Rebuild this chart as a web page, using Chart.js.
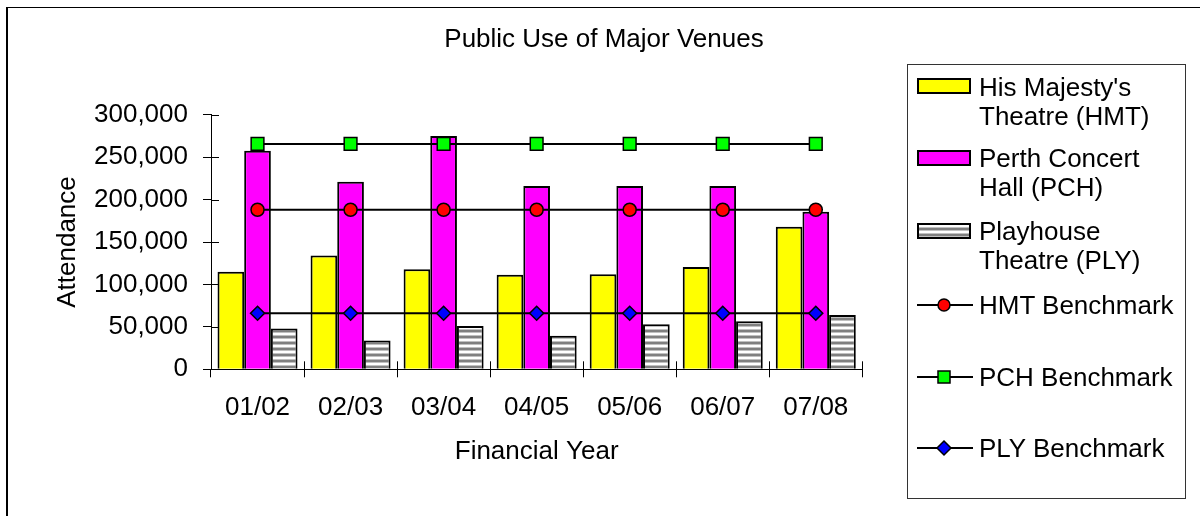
<!DOCTYPE html>
<html>
<head>
<meta charset="utf-8">
<script src="https://cdn.jsdelivr.net/npm/chart.js@4/dist/chart.umd.min.js"></script>
<style>
  html, body { margin:0; padding:0; width:1200px; height:516px; overflow:hidden; background:#fff; }
  #frame { position:absolute; left:6px; top:7px; width:1300px; height:600px; border-left:2px solid #000; border-top:1px solid #000; }
  #c { position:absolute; left:0; top:0; }
  #legend { position:absolute; left:907px; top:64px; width:279px; height:435px; border:1px solid #333; box-sizing:border-box; }
  .lt { position:absolute; left:979px; font-family:'Liberation Sans', Arial, sans-serif; font-size:26px; line-height:29px; color:#000; white-space:nowrap; }
  .sw { position:absolute; left:917px; width:54px; height:16px; border:2px solid #000; box-sizing:border-box; }
  .ls { position:absolute; left:916px; width:58px; height:20px; }
</style>
</head>
<body>
<div id="frame"></div>
<canvas id="c" width="1208" height="516"></canvas>
<div id="legend"></div>
<div class="sw" style="top:78px;background:#FFFF00"></div>
<div class="lt" style="top:72.5px">His Majesty's<br>Theatre (HMT)</div>
<div class="sw" style="top:150px;background:#FF00FF"></div>
<div class="lt" style="top:143.8px">Perth Concert<br>Hall (PCH)</div>
<div class="sw" style="top:223px;background:repeating-linear-gradient(to bottom,#fff 0px,#fff 2px,#c0c0c0 2px,#c0c0c0 3px,#808080 3px,#808080 5px,#c0c0c0 5px,#c0c0c0 6px)"></div>
<div class="lt" style="top:216.5px">Playhouse<br>Theatre (PLY)</div>
<svg class="ls" style="top:295px" viewBox="0 0 58 20"><line x1="1" y1="10" x2="57" y2="10" stroke="#000" stroke-width="2"/><circle cx="28" cy="10" r="6" fill="#FF0000" stroke="#000" stroke-width="1.5"/></svg>
<div class="lt" style="top:290.5px">HMT Benchmark</div>
<svg class="ls" style="top:366.7px" viewBox="0 0 58 20"><line x1="1" y1="10" x2="57" y2="10" stroke="#000" stroke-width="2"/><rect x="22" y="4" width="12" height="12" fill="#00FF00" stroke="#000" stroke-width="1.5"/></svg>
<div class="lt" style="top:362.5px">PCH Benchmark</div>
<svg class="ls" style="top:438.3px" viewBox="0 0 58 20"><line x1="1" y1="10" x2="57" y2="10" stroke="#000" stroke-width="2"/><polygon points="28,3 35,10 28,17 21,10" fill="#0000FF" stroke="#000" stroke-width="1.5"/></svg>
<div class="lt" style="top:434px">PLY Benchmark</div>
<script>
// ---- data ----
const categories = ['01/02', '02/03', '03/04', '04/05', '05/06', '06/07', '07/08'];
const hmtValues = [115000, 134000, 118000, 111500, 112000, 120500, 168000];
const pchValues = [257500, 221000, 275000, 216000, 216000, 216000, 185500];
const plyValues = [48000, 34000, 51000, 39500, 53000, 56500, 64000];
const hmtBenchmark = [188000, 188000, 188000, 188000, 188000, 188000, 188000];
const pchBenchmark = [265500, 265500, 265500, 265500, 265500, 265500, 265500];
const plyBenchmark = [66000, 66000, 66000, 66000, 66000, 66000, 66000];
const yTickValues = [0, 50000, 100000, 150000, 200000, 250000, 300000];

const FONT = "'Liberation Sans', Arial, sans-serif";
Chart.defaults.font.family = FONT;
Chart.defaults.font.size = 26;
Chart.defaults.color = '#000';

// striped pattern for Playhouse bars
const pc = document.createElement('canvas');
pc.width = 8; pc.height = 6;
const pctx = pc.getContext('2d');
const rows = ['#808080', '#808080', '#c0c0c0', '#ffffff', '#ffffff', '#c0c0c0'];
rows.forEach((col, i) => { pctx.fillStyle = col; pctx.fillRect(0, i, 8, 1); });
const ctx = document.getElementById('c').getContext('2d');
const stripes = ctx.createPattern(pc, 'repeat');

const crossTicks = {
  id: 'crossTicks',
  beforeDatasetsDraw(chart) {
    const { ctx, scales: { x, y } } = chart;
    ctx.save();
    ctx.strokeStyle = '#000';
    ctx.lineWidth = 1;
    y.ticks.forEach((t, i) => {
      const py = Math.round(y.getPixelForTick(i)) + 0.5;
      ctx.beginPath(); ctx.moveTo(y.right, py); ctx.lineTo(y.right + 8, py); ctx.stroke();
    });
    for (let i = 0; i <= categories.length; i++) {
      const px = Math.round(x.getPixelForValue(i - 0.5)) + 0.5;
      ctx.beginPath(); ctx.moveTo(px, x.top - 8); ctx.lineTo(px, x.top); ctx.stroke();
    }
    ctx.restore();
  }
};

const barCommon = { borderColor: '#000', borderWidth: 2, categoryPercentage: 0.86, barPercentage: 1.0, order: 2 };
const lineCommon = { type: 'line', borderColor: '#000', borderWidth: 2, fill: false, tension: 0,
  pointBorderColor: '#000', pointBorderWidth: 1.5, order: 1 };

new Chart(ctx, {
  type: 'bar',
  data: {
    labels: categories,
    datasets: [
      { ...barCommon, label: "His Majesty's Theatre (HMT)", data: hmtValues, backgroundColor: '#FFFF00' },
      { ...barCommon, label: 'Perth Concert Hall (PCH)', data: pchValues, backgroundColor: '#FF00FF' },
      { ...barCommon, label: 'Playhouse Theatre (PLY)', data: plyValues, backgroundColor: stripes },
      { ...lineCommon, label: 'HMT Benchmark', data: hmtBenchmark, pointStyle: 'circle', pointRadius: 6.5, pointBackgroundColor: '#FF0000' },
      { ...lineCommon, label: 'PCH Benchmark', data: pchBenchmark, pointStyle: 'rect', pointRadius: 9, pointBackgroundColor: '#00FF00' },
      { ...lineCommon, label: 'PLY Benchmark', data: plyBenchmark, pointStyle: 'rectRot', pointRadius: 7, pointBackgroundColor: '#0000FF' }
    ]
  },
  options: {
    responsive: false,
    animation: false,
    devicePixelRatio: 1,
    layout: { padding: 0 },
    plugins: {
      legend: { display: false },
      tooltip: { enabled: false },
      title: { display: true, text: 'Public Use of Major Venues', font: { size: 26, weight: 'normal' }, color: '#000',
        padding: { top: 24, bottom: 59.5 } }
    },
    scales: {
      x: {
        grid: { drawOnChartArea: false, tickLength: 8, color: '#000', offset: true },
        border: { color: '#000', width: 1 },
        ticks: { padding: 15, maxRotation: 0, autoSkip: false, color: '#000' },
        title: { display: true, text: 'Financial Year', color: '#000', font: { size: 26 }, padding: { top: 0, bottom: 49 } },
        afterFit(s) { s.height = 146.7; }
      },
      y: {
        min: 0, max: 300000,
        afterBuildTicks(s) { s.ticks = yTickValues.map(v => ({ value: v })); },
        grid: { drawOnChartArea: false, tickLength: 8, color: '#000' },
        border: { color: '#000', width: 1 },
        ticks: { padding: 15, color: '#000', callback: v => Number(v).toLocaleString('en-US') },
        title: { display: true, text: 'Attendance', color: '#000', font: { size: 26 }, padding: { top: 52.4, bottom: 0 } },
        afterFit(s) { s.width = 211; }
      },
      yRight: {
        type: 'linear', position: 'right', display: true,
        grid: { display: false }, border: { display: false }, ticks: { display: false },
        afterFit(s) { s.width = 345.7; }
      }
    }
  },
  plugins: [crossTicks]
});
</script>
</body>
</html>
